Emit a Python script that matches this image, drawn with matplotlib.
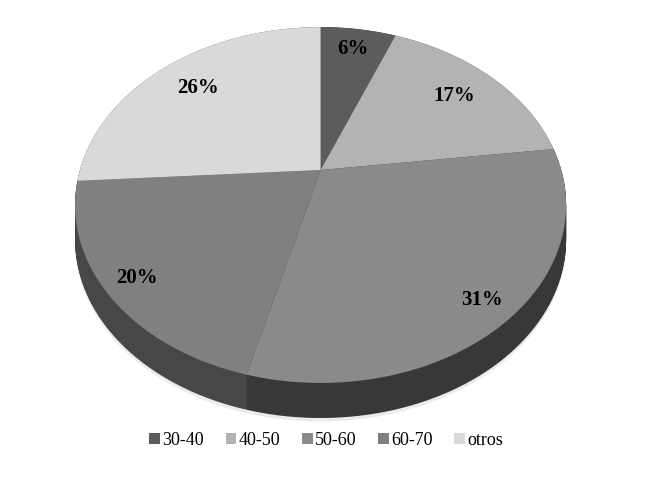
import numpy as np
import matplotlib
matplotlib.use('Agg')
import matplotlib.pyplot as plt
from matplotlib.transforms import Transform, Affine2D
from matplotlib.path import Path
from matplotlib.patches import Patch

categorias = ['30-40', '40-50', '50-60', '60-70', 'otros']
porcentajes = [6, 17, 31, 20, 26]
colores = ['#5c5c5c', '#b3b3b3', '#8a8a8a', '#808080', '#d9d9d9']
colores_lado = ['#2e2e2e', '#4a4a4a', '#383838', '#474747', '#555555']
# distancia de cada etiqueta al centro (como la dejo Excel)
dist_etiquetas = [0.84, 0.77, 0.88, 0.88, 0.77]


# perspectiva simple para el disco inclinado (lo de abajo se ve mas grande)
class Perspectiva(Transform):
    input_dims = output_dims = 2

    def __init__(self, k):
        super().__init__()
        self.k = k

    def transform_non_affine(self, values):
        v = np.asarray(values, float)
        d = 1 + self.k * v[:, 1]
        return np.column_stack([v[:, 0] / d, v[:, 1] / d])

    def transform_path_non_affine(self, path):
        polys = path.to_polygons(transform=Affine2D().scale(1000), closed_only=True)
        paths = [Path(self.transform_non_affine(p / 1000.0), closed=True) for p in polys]
        return Path.make_compound_path(*paths)


fig = plt.figure(figsize=(6.59, 4.79), dpi=100)
ax = fig.add_axes([0, 0, 1, 1])
persp = Perspectiva(0.197)
grosor = 0.205

# sombra suave
w, _ = ax.pie(porcentajes, colors=['#ebebeb'] * 5, startangle=90, counterclock=False,
              wedgeprops=dict(linewidth=0))
for p in w:
    p.set_transform(persp + Affine2D().translate(0, -grosor - 0.02) + ax.transData)

# lado del pastel
for h in np.linspace(grosor, 0, 40):
    w, _ = ax.pie(porcentajes, colors=colores_lado, startangle=90, counterclock=False,
                  wedgeprops=dict(linewidth=0))
    for p in w:
        p.set_transform(persp + Affine2D().translate(0, -h) + ax.transData)

# cara superior
w, _ = ax.pie(porcentajes, colors=colores, startangle=90, counterclock=False,
              wedgeprops=dict(linewidth=0))
for p in w:
    p.set_transform(persp + ax.transData)

# etiquetas
acum = np.cumsum([0] + porcentajes)
for i, v in enumerate(porcentajes):
    ang = np.deg2rad(90 - (acum[i] + v / 2) / 100 * 360)
    r = dist_etiquetas[i]
    ax.text(r * np.cos(ang), r * np.sin(ang), f'{v}%', transform=persp + ax.transData,
            ha='center', va='center', fontsize=15, fontweight='bold',
            family='Liberation Serif', color='black')

ax.set_aspect('auto')
ax.set_xlim(-1.332, 1.406)
ax.set_ylim(-1.807, 0.994)
ax.axis('off')

handles = [Patch(facecolor=c) for c in colores]
fig.legend(handles, categorias, loc='center', bbox_to_anchor=(0.495, 0.081), ncol=5,
           frameon=False, handlelength=0.6, handleheight=0.6, handletextpad=0.12,
           columnspacing=1.2, prop={'family': 'Liberation Serif', 'size': 13})

fig.savefig('out.png', dpi=100, facecolor='white')
